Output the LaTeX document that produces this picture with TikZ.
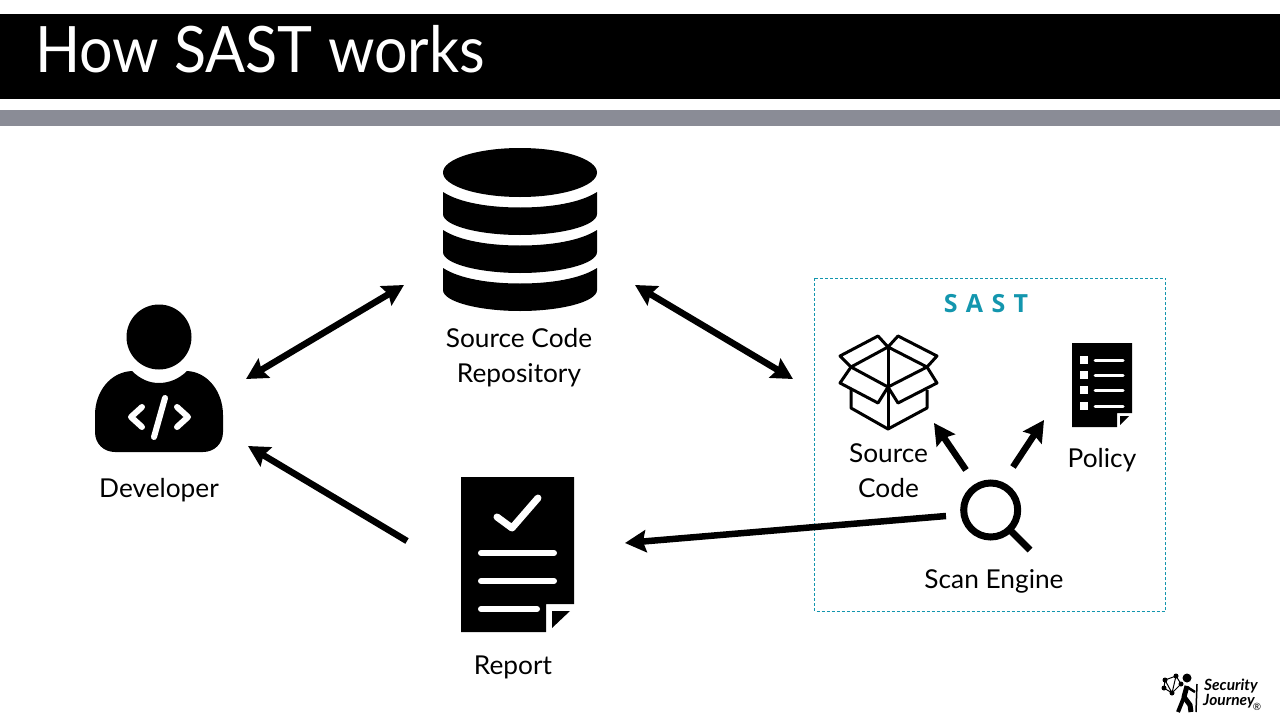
\documentclass[tikz,border=0pt]{standalone}
\usepackage{fontspec}
\setmainfont{Lato}
\newfontfamily\sastfont{Open Sans}
\usetikzlibrary{arrows.meta}
\definecolor{sastteal}{HTML}{1396AE}
\definecolor{bargray}{HTML}{8A8C96}
\tikzset{
  label/.style={inner sep=0pt,font=\fontsize{26}{35}\selectfont,align=center,text=black,xscale=1.01},
  bigarrow/.style={line width=6.5pt,-{Stealth[length=21pt,width=22pt,inset=3pt]}},
  botharrow/.style={line width=6.5pt,{Stealth[length=21pt,width=22pt,inset=3pt]}-{Stealth[length=21pt,width=22pt,inset=3pt]}},
  whitebar/.style={draw=white,line width=6pt,line cap=round,line join=round},
  boxline/.style={draw=black,line width=3pt,line join=round},
  brandtext/.style={inner sep=0pt,anchor=base west,font=\bfseries\itshape\fontsize{15.5}{15.5}\selectfont}
}
\begin{document}
\begin{tikzpicture}[x=1pt,y=-1pt]
\useasboundingbox (0,0) rectangle (1280,720);
% header
\fill[black](0,14)rectangle(1280,99);
\fill[bargray](0,110)rectangle(1280,126);
\node[anchor=base west,inner sep=0pt,text=white,font=\fontsize{64}{64}\selectfont,xscale=.925] (title) at (35,72) {How SAST works};
% developer
\fill[black](159,337)circle(32.5);
\fill[black](132,371) .. controls (140,379) and (149,383) .. (159,383) .. controls (169,383) and (179,379) .. (187,371)
  .. controls (208,372) and (223,392) .. (223,415) -- (223,432) .. controls (223,444) and (214,452) .. (203,452) -- (115,452)
  .. controls (104,452) and (95,444) .. (95,432) -- (95,415) .. controls (95,392) and (110,372) .. (132,371) -- cycle;
\draw[whitebar](165,398)--(154,437);
\draw[whitebar](142,407)--(131,417)--(142,427);
\draw[whitebar](177,407)--(188,417)--(177,427);
\node[label] (developer) at (159,490) {Developer};
% repository
\fill[black](520,172.5)ellipse(77 and 24.5);
\foreach \dy in {0,38,76}{
  \fill[black,yshift=-\dy pt](443,192) .. controls (460,203) and (490,207.5) .. (520,207.5) .. controls (550,207.5) and (580,203) .. (597,192)
    -- (597,214) .. controls (597,226) and (560,235) .. (520,235) .. controls (480,235) and (443,226) .. (443,214) -- cycle;
}
\node[label] (repo) at (519,358) {Source Code\\Repository};
% report
\fill[black](461,477)--(574,477)--(574,604)--(546,604)--(546,632)--(461,632)--cycle;
\fill[black](552,611)--(570,611)--(552,628)--cycle;
\draw[whitebar,line width=7pt](497,517)--(512,528)--(538,498);
\draw[whitebar](481,553)--(554,553);
\draw[whitebar](481,581)--(554,581);
\draw[whitebar](481,609)--(537,609);
\node[label] (report) at (513,667) {Report};
% sast frame
\draw[sastteal,line width=.8pt,dash pattern=on 3pt off 2pt](814.5,278)rectangle(1165.5,611);
\node[inner sep=0pt,text=sastteal,font=\sastfont\bfseries\fontsize{25}{25}\selectfont] (sast) at (986,304) {S\,\,A\,\,S\,\,T};
% source code box
\draw[boxline](888,347)--(878,336)--(840,356)--(851,367)--(888,347)--(898,336)--(937,356)--(927,367)--(888,347);
\draw[boxline](851,367)--(888,387)--(927,367);
\draw[boxline](851,367)--(840,383)--(878,403)--(888,387)--(898,403)--(937,383)--(927,367);
\draw[boxline](851,388)--(851,408)--(888,429)--(927,408)--(927,390);
\draw[boxline](888,347)--(888,429);
\node[label] (code) at (888.5,471) {Source\\Code};
% policy
\fill[black](1072,343)--(1132,343)--(1132,413)--(1117,413)--(1117,427)--(1072,427)--cycle;
\fill[black](1120,416)--(1129,416)--(1120,425)--cycle;
\foreach \yy in {360,375,390,406}{
  \fill[white](1080,\yy-4)rectangle(1088,\yy+4);
  \draw[white,line width=3pt,line cap=round](1095,\yy)--(1123,\yy);
}
\node[label] (policy) at (1102,460) {Policy};
% scan engine
\draw[black,line width=7pt](990.7,510)circle(27);
\draw[black,line width=7pt](1011,531)--(1030,550);
\node[label] (scan) at (994,581) {Scan Engine};
% connector ends
\coordinate (devA) at (246,379);
\coordinate (devB) at (248,446);
\coordinate (repoA) at (404,285);
\coordinate (repoB) at (635,285);
\coordinate (sastA) at (793,379);
\coordinate (scanA) at (946,516);
\coordinate (scanB) at (966,470);
\coordinate (scanC) at (1013,467);
\coordinate (codeA) at (934,423);
\coordinate (policyA) at (1044,420);
\coordinate (reportA) at (407,541);
\coordinate (reportB) at (625,543);
\draw[botharrow](devA)--(repoA);
\draw[botharrow](repoB)--(sastA);
\draw[bigarrow](reportA)--(devB);
\draw[bigarrow](scanA)--(reportB);
\draw[bigarrow](scanB)--(codeA);
\draw[bigarrow](scanC)--(policyA);
% logo
\fill[black](1187,678)circle(4.5);
\draw[black,line width=5pt,line join=round](1187,686)--(1184,697)--(1190,705)--(1191,712);
\draw[black,line width=4pt](1184,697)--(1178,712);
\draw[black,line width=1.5pt](1197,684)--(1196,712);
\draw[black,line width=2.5pt](1187,687)--(1195,692);
\draw[black,line width=1pt](1165,680)--(1176,676)--(1181,684)--(1172,693)--(1164,688)--cycle (1165,680)--(1172,693) (1176,676)--(1172,693);
\foreach \px/\py in {1165/680,1176/676,1181/684,1172/693,1164/688}{\fill[black](\px,\py)circle(2.5);}
\node[brandtext] (brand) at (1204,690) {Security};
\node[brandtext] (brandb) at (1203,705) {Journey};
\node[inner sep=0pt,font=\fontsize{10}{10}\selectfont] (brandr) at (1257,707) {\textregistered};
\end{tikzpicture}
\end{document}
